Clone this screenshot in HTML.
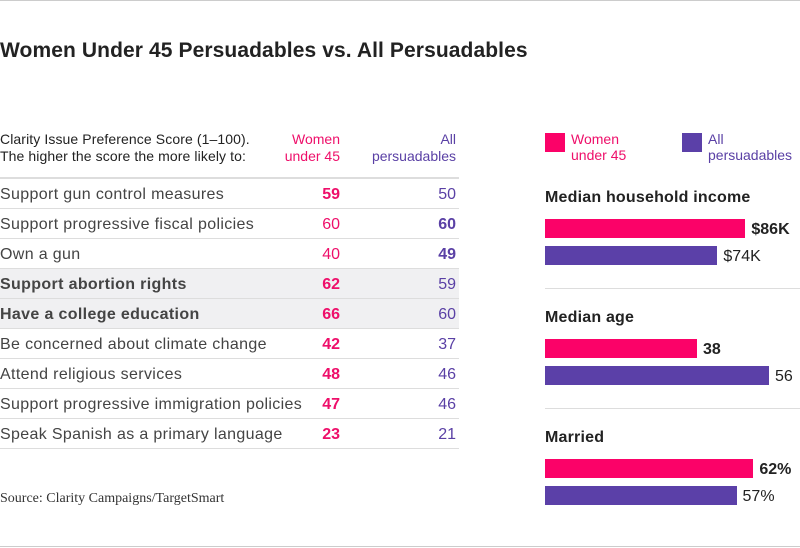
<!DOCTYPE html>
<html><head><meta charset="utf-8"><style>
body{margin:0;width:800px;height:548px;background:#fff;font-family:"Liberation Sans",Arial,sans-serif;position:relative;overflow:hidden;color:#333}
.abs{position:absolute}
.pink{color:#ee0f6a}.purp{color:#5a40a5}
</style></head><body>
<div class="abs" style="left:0;top:0;width:800px;height:1px;background:#ccc"></div>
<div class="abs" style="left:0;top:39px;font-size:21px;font-weight:bold;color:#222;letter-spacing:0.1px">Women Under 45 Persuadables vs. All Persuadables</div>
<div class="abs" style="left:0;top:131px;font-size:14px;line-height:17px;color:#222;letter-spacing:0.1px">Clarity Issue Preference Score (1–100).<br>The higher the score the more likely to:</div>
<div class="abs pink" style="left:240px;width:100px;text-align:right;top:131px;font-size:14px;line-height:17px">Women<br>under 45</div>
<div class="abs purp" style="left:340px;width:116px;text-align:right;top:131px;font-size:14px;line-height:17px">All<br>persuadables</div>
<div class="abs" style="left:0;top:177px;width:459px;height:2px;background:#ddd"></div>
<div id="table"></div>
<div class="abs" style="left:0;top:491px;font-family:'Liberation Serif',serif;font-size:14px;color:#333">Source: Clarity Campaigns/TargetSmart</div>
<div class="abs" style="left:0;top:546px;width:800px;height:1px;background:#ccc"></div>

<div class="abs" style="left:545px;top:133px;width:20px;height:19px;background:#fb0268"></div>
<div class="abs pink" style="left:571px;top:131px;font-size:14px;line-height:16px">Women<br>under 45</div>
<div class="abs" style="left:682px;top:133px;width:20px;height:19px;background:#5b40a8"></div>
<div class="abs purp" style="left:708px;top:131px;font-size:14px;line-height:16px">All<br>persuadables</div>
<div id="bars"></div>
<script>
const items=["Support gun control measures","Support progressive fiscal policies","Own a gun","Support abortion rights","Have a college education","Be concerned about climate change","Attend religious services","Support progressive immigration policies","Speak Spanish as a primary language"];
const women=[59,60,40,62,66,42,48,47,23];
const allP=[50,60,49,59,60,37,46,46,21];
const highlighted=[3,4];
const panels=["Median household income","Median age","Married"];
const womenVals=[86,38,62];
const allVals=[74,56,57];
const valueLabelsW=["$86K","38","62%"];
const valueLabelsA=["$74K","56","57%"];
const pxPerUnit=[2.33,4.0,3.36];

const t=document.getElementById('table');
items.forEach((it,i)=>{
  const y=179+i*30;
  const row=document.createElement('div');
  
  
  const hl=highlighted.includes(i);
  row.className='abs';
  row.style.cssText=`left:0;top:${y}px;width:459px;height:30px;${hl?'background:#f0f0f2;':''}border-bottom:1px solid #ddd;box-sizing:border-box`;
  row.innerHTML=`<div class="abs" style="left:0;top:7px;font-size:16px;letter-spacing:0.35px;color:#444;${hl?'font-weight:bold;':''}white-space:nowrap">${it}</div>
  <div class="abs pink" style="left:290px;width:50px;text-align:right;top:7px;font-size:16px;${women[i]>allP[i]?'font-weight:bold;':''}">${women[i]}</div>
  <div class="abs purp" style="left:400px;width:56px;text-align:right;top:7px;font-size:16px;${allP[i]>=women[i]?'font-weight:bold;':''}">${allP[i]}</div>`;
  t.appendChild(row);
});
const b=document.getElementById('bars');
panels.forEach((p,i)=>{
  const y0=187+i*120;
  const ttl=document.createElement('div');
  
  
  ttl.className='abs';ttl.style.cssText=`left:545px;top:${y0+2}px;font-size:16px;font-weight:bold;color:#222;letter-spacing:0.2px`;
  ttl.textContent=p;b.appendChild(ttl);
  const ww=womenVals[i]*pxPerUnit[i], aw=allVals[i]*pxPerUnit[i];
  const bw=document.createElement('div');
  
  
  bw.className='abs';bw.style.cssText=`left:545px;top:${y0+32}px;width:${ww}px;height:19px;background:#fb0268`;b.appendChild(bw);
  const lw=document.createElement('div');
  
  
  lw.className='abs';lw.style.cssText=`left:${551+ww}px;top:${y0+34}px;font-size:16px;font-weight:bold;color:#222`;lw.textContent=valueLabelsW[i];b.appendChild(lw);
  const ba=document.createElement('div');
  
  
  ba.className='abs';ba.style.cssText=`left:545px;top:${y0+59}px;width:${aw}px;height:19px;background:#5b40a8`;b.appendChild(ba);
  const la=document.createElement('div');
  
  
  la.className='abs';la.style.cssText=`left:${551+aw}px;top:${y0+61}px;font-size:16px;color:#222`;la.textContent=valueLabelsA[i];b.appendChild(la);
  if(i<2){const r=document.createElement('div');
  
  
  r.className='abs';r.style.cssText=`left:545px;top:${y0+101}px;width:255px;height:1px;background:#ddd`;b.appendChild(r);}
});
</script>
</body></html>
